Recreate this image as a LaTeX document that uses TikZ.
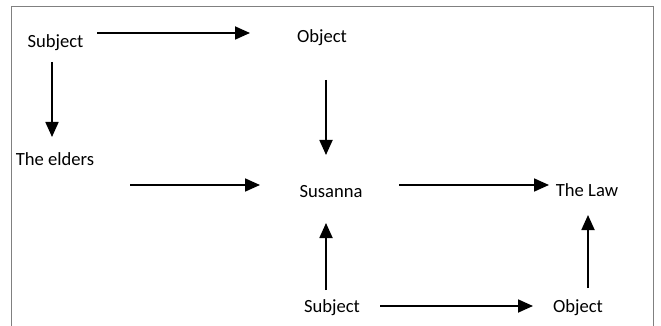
\documentclass[tikz,border=0pt]{standalone}
\usepackage{fontspec}
\setmainfont{Carlito}
\usetikzlibrary{calc,arrows.meta}
\begin{document}
\begin{tikzpicture}[x=1pt,y=-1pt,
  lbl/.style={inner sep=0pt,anchor=center,font=\fontsize{18.6}{22}\selectfont,text=black},
  arr/.style={line width=1.8pt,-{Triangle[length=15pt,width=13pt]}},
  frame/.style={draw=black!50,line width=1pt}]
\useasboundingbox (0,0) rectangle (661,326);
\draw[frame] (11,330) -- (11,7) -- (653,7) -- (653,330);
\node[lbl] (s1) at (55.5,43) {Subject};
\node[lbl] (o1) at (322,38) {Object};
\node[lbl] (te) at (55,159) {The elders};
\node[lbl] (su) at (331,192) {Susanna};
\node[lbl] (law) at (587,190) {The Law};
\node[lbl] (s2) at (332,308) {Subject};
\node[lbl] (o2) at (578,308) {Object};
\draw[arr] ($(s1)+(41.5,-10)$) -- ($(o1)+(-72,-5)$);
\draw[arr] ($(s1)+(-3.5,19)$) -- ($(te)+(-3,-22)$);
\draw[arr] ($(o1)+(4,42)$) -- ($(su)+(-5,-37)$);
\draw[arr] ($(te)+(75,26)$) -- ($(su)+(-71,-7)$);
\draw[arr] ($(su)+(68,-7)$) -- ($(law)+(-38,-5)$);
\draw[arr] ($(s2)+(-6,-18)$) -- ($(su)+(-5,31)$);
\draw[arr] ($(s2)+(48,-2)$) -- ($(o2)+(-45,-2)$);
\draw[arr] ($(o2)+(10,-20)$) -- ($(law)+(1,25)$);
\end{tikzpicture}
\end{document}
